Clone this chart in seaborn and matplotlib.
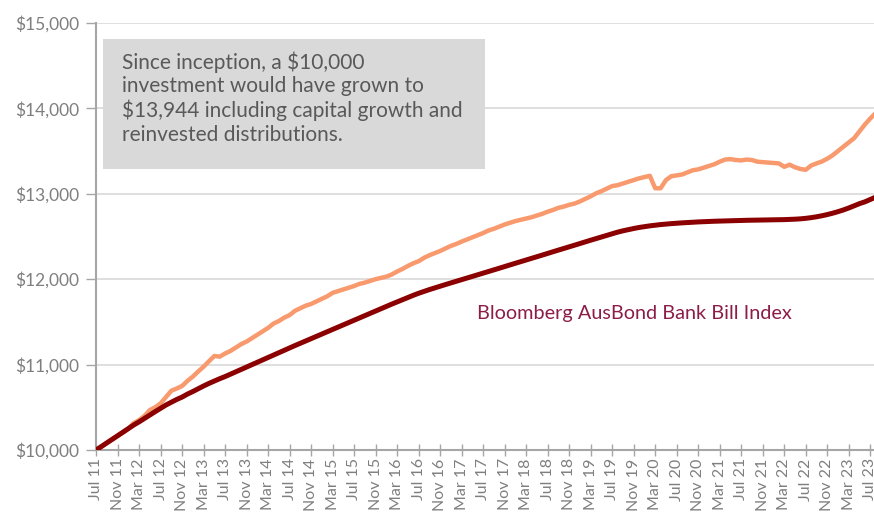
"""
Growth of $10,000 since inception vs Bloomberg AusBond Bank Bill Index.
"""

import pandas as pd
import matplotlib.pyplot as plt
import matplotlib.patches as mpatches
import seaborn as sns

# ── Data (monthly, Jul 2011 - Aug 2023) ──────────────────────────────────────
months = pd.date_range("2011-07-01", "2023-08-01", freq="MS")

fund_values = [
    10000, 10040, 10085, 10125, 10165, 10205, 10250, 10316, 10350, 10400, 10468, 10500,
    10547, 10620, 10694, 10720, 10750, 10810, 10860, 10920, 10976, 11040, 11101, 11093,
    11130, 11160, 11200, 11240, 11270, 11310, 11350, 11390, 11430, 11480, 11510, 11550,
    11580, 11630, 11660, 11690, 11710, 11740, 11770, 11800, 11840, 11860, 11880, 11900,
    11920, 11945, 11960, 11980, 12000, 12015, 12030, 12055, 12090, 12120, 12155, 12186,
    12210, 12250, 12280, 12305, 12330, 12360, 12390, 12412, 12440, 12465, 12490, 12515,
    12540, 12570, 12590, 12615, 12640, 12660, 12680, 12695, 12710, 12725, 12745, 12765,
    12790, 12810, 12835, 12850, 12870, 12885, 12910, 12940, 12970, 13005, 13030, 13060,
    13090, 13100, 13120, 13140, 13160, 13180, 13195, 13210, 13064, 13064, 13160, 13205,
    13215, 13225, 13250, 13275, 13285, 13305, 13325, 13345, 13375, 13400, 13405, 13395,
    13390, 13400, 13395, 13375, 13370, 13365, 13360, 13355, 13315, 13340, 13310, 13290,
    13280, 13330, 13355, 13377, 13410, 13450, 13500, 13550, 13600, 13650, 13730, 13810,
    13880, 13944,
]

index_values = [
    10000, 10042, 10084, 10126, 10168, 10210, 10252, 10293, 10330, 10370, 10410, 10450,
    10488, 10527, 10560, 10592, 10620, 10655, 10685, 10718, 10750, 10780, 10808, 10835,
    10860, 10888, 10916, 10944, 10972, 11000, 11028, 11056, 11084, 11112, 11140, 11168,
    11196, 11223, 11250, 11277, 11304, 11331, 11358, 11385, 11412, 11439, 11466, 11493,
    11520, 11547, 11574, 11601, 11628, 11655, 11682, 11708, 11734, 11760, 11786, 11811,
    11835, 11857, 11878, 11898, 11918, 11937, 11956, 11975, 11994, 12013, 12032, 12051,
    12070, 12090, 12109, 12128, 12148, 12167, 12186, 12205, 12225, 12244, 12263, 12282,
    12302, 12321, 12340, 12360, 12379, 12398, 12417, 12437, 12456, 12475, 12494, 12514,
    12533, 12550, 12566, 12580, 12593, 12605, 12615, 12624, 12632, 12639, 12645, 12650,
    12655, 12659, 12663, 12667, 12670, 12673, 12676, 12678, 12680, 12682, 12684, 12686,
    12688, 12689, 12690, 12691, 12692, 12693, 12694, 12695, 12697, 12699, 12702, 12706,
    12712, 12720, 12730, 12742, 12756, 12772, 12790, 12810, 12833, 12858, 12884, 12905,
    12932, 12960,
]

y_ticks = [10000, 11000, 12000, 13000, 14000, 15000]

note_text = ("Since inception, a $10,000\ninvestment would have grown to\n"
             "$13,944 including capital growth and\nreinvested distributions.")
index_label = "Bloomberg AusBond Bank Bill Index"

# fmt: off
FUND_COLOR  = "#F89A6E"
INDEX_COLOR = "#8B0000"
LABEL_COLOR = "#8C1C48"
GREY_TEXT   = "#7F7F7F"
AXIS_GREY   = "#A6A6A6"
GRID_GREY   = "#D9D9D9"
# fmt: on

df = pd.DataFrame({
    "m": range(len(months)),
    "fund": fund_values,
    "index": index_values,
})
tick_pos = list(range(0, len(months), 4))
tick_labels = [months[i].strftime("%b %y") for i in tick_pos]

# ── Plot ─────────────────────────────────────────────────────────────────────
sns.set_theme(style="white")
plt.rcParams["font.family"] = ["Lato", "DejaVu Sans"]

fig = plt.figure(figsize=(8.74, 5.2), dpi=100)
fig.patch.set_facecolor("white")
ax = fig.add_axes([0.110, 0.1346, 0.890, 0.8214])

for y in y_ticks[1:]:
    ax.axhline(y, color=GRID_GREY, linewidth=1.2, zorder=0)

sns.lineplot(data=df, x="m", y="fund", color=FUND_COLOR, linewidth=3.2, ax=ax, zorder=3)
sns.lineplot(data=df, x="m", y="index", color=INDEX_COLOR, linewidth=3.6, ax=ax, zorder=4)

ax.set_xlim(0, 144.7)
ax.set_ylim(10000, 15000)
ax.set_yticks(y_ticks)
ax.yaxis.set_major_formatter(plt.FuncFormatter(lambda v, _: f"${int(v):,}"))
ax.set_xticks(tick_pos)
ax.set_xticklabels(tick_labels, rotation=90)
ax.set_xlabel("")
ax.set_ylabel("")

ax.tick_params(axis="y", direction="out", length=7, width=1, color=AXIS_GREY,
               labelsize=12.5, labelcolor=GREY_TEXT, pad=5, left=True)
ax.tick_params(axis="x", direction="inout", length=8, width=1, color=AXIS_GREY,
               labelsize=11.5, labelcolor=GREY_TEXT, pad=2, bottom=True)

for side in ["top", "right"]:
    ax.spines[side].set_visible(False)
for side in ["left", "bottom"]:
    ax.spines[side].set_color(AXIS_GREY)
    ax.spines[side].set_linewidth(1.5)

# Note box
ax.add_patch(mpatches.Rectangle(
    (0.009, 0.658), 0.491, 0.3045, transform=ax.transAxes,
    facecolor="#D9D9D9", edgecolor="none", zorder=5,
))
ax.text(
    0.033, 0.934, note_text,
    transform=ax.transAxes, ha="left", va="top",
    fontsize=15, color="#595959", linespacing=1.22, zorder=6,
)

# Index label
ax.text(
    0.49, 0.32, index_label,
    transform=ax.transAxes, ha="left", va="center",
    fontsize=14.3, color=LABEL_COLOR, zorder=6,
)

plt.savefig("out.png", dpi=100, facecolor="white")
plt.close()
print("Saved: out.png")
